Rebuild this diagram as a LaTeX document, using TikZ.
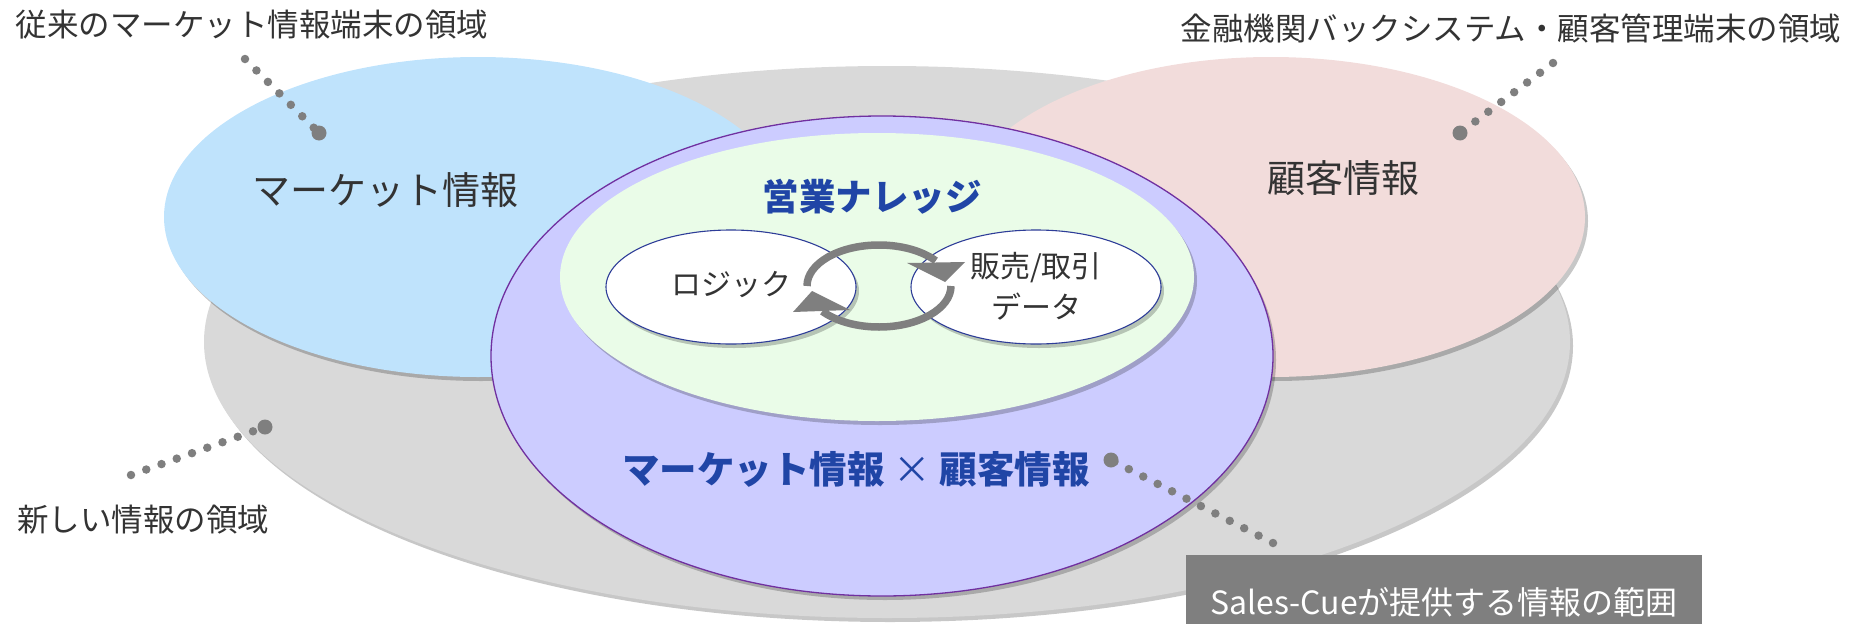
\documentclass[tikz,border=0pt]{standalone}
\usepackage{fontspec}
\setmainfont{Noto Sans CJK JP}
\usetikzlibrary{shapes.geometric,shadows}
\definecolor{grayell}{HTML}{D9D9D9}
\definecolor{blueell}{HTML}{BFE3FC}
\definecolor{pinkell}{HTML}{F2DCDB}
\definecolor{purpell}{HTML}{CCCCFF}
\definecolor{purpline}{HTML}{7030A0}
\definecolor{greenell}{HTML}{EAFCE8}
\definecolor{navyline}{HTML}{2E3D98}
\definecolor{dotgray}{HTML}{7F7F7F}
\definecolor{titleblue}{HTML}{2045A6}
\definecolor{labeltext}{HTML}{333333}
\tikzset{
  ell/.style={ellipse, inner sep=0pt, outer sep=0pt},
  softshadow/.style={drop shadow={shadow xshift=3pt, shadow yshift=-4pt, opacity=0.22, fill=black}},
  labeltxt/.style={inner sep=0pt, text=labeltext, font=\fontsize{31.5}{36}\selectfont},
  bigtxt/.style={inner sep=0pt, text=labeltext, font=\fontsize{38}{42}\selectfont},
  innertxt/.style={inner sep=0pt, text=labeltext, font=\fontsize{30}{41}\selectfont, align=center},
  headtxt/.style={inner sep=0pt, text=titleblue, font=\bfseries\fontsize{36.5}{42}\selectfont},
  dotline/.style={draw=dotgray, line width=8.5pt, line cap=round, dash pattern=on 0pt off 16.2pt},
  bigdot/.style={fill=dotgray},
  cyclearc/.style={draw=dotgray, line width=7.5pt},
  cyclehead/.style={fill=dotgray},
}
\begin{document}
\begin{tikzpicture}[x=1pt,y=-1pt]
\useasboundingbox (0,0) rectangle (1869,624);
% background areas
\node[ell, fill=grayell, softshadow, minimum width=1366pt, minimum height=552pt] (newarea) at (887,342) {};
\node[ell, fill=blueell, softshadow, minimum width=628pt, minimum height=320pt] (market) at (478,217) {};
\node[ell, fill=pinkell, softshadow, minimum width=628pt, minimum height=320pt] (client) at (1271,217) {};
\node[ell, fill=purpell, draw=purpline, line width=1.3pt, softshadow, minimum width=782pt, minimum height=480pt] (salescue) at (882,356) {};
\node[ell, fill=greenell, softshadow, minimum width=634pt, minimum height=288pt] (knowledge) at (877,277) {};
\node[ell, fill=white, draw=navyline, line width=1.1pt, softshadow, minimum width=250pt, minimum height=114pt] (logic) at (731,287) {};
\node[ell, fill=white, draw=navyline, line width=1.1pt, softshadow, minimum width=250pt, minimum height=114pt] (trade) at (1036,287) {};
% cycle arrows
\draw[cyclearc] (807,286) arc[start angle=180, end angle=38, x radius=72pt, y radius=41pt];
\fill[cyclehead] (907,263) -- (965,262) -- (945,282) -- cycle;
\draw[cyclearc] (951,286) arc[start angle=0, end angle=-142, x radius=72pt, y radius=41pt];
\fill[cyclehead] (793,312) -- (850,310) -- (812,291) -- cycle;
% texts in ellipses
\node[bigtxt] (markettxt) at (385,190) {マーケット情報};
\node[bigtxt] (clienttxt) at (1343,178) {顧客情報};
\node[headtxt] (knowtxt) at (872,197) {営業ナレッジ};
\node[innertxt] (logictxt) at (731,285) {ロジック};
\node[innertxt] (tradetxt) at (1036,286) {販売/取引\\データ};
\node[headtxt, font=\bfseries\fontsize{37.5}{42}\selectfont] (combtxt) at (856,469) {マーケット情報 {\mdseries ×} 顧客情報};
% outer labels
\node[labeltxt] (lblold) at (252,25) {従来のマーケット情報端末の領域};
\node[labeltxt] (lblbank) at (1511,28) {金融機関バックシステム・顧客管理端末の領域};
\node[labeltxt] (lblnew) at (143,520) {新しい情報の領域};
\node[fill=dotgray, inner sep=0pt, minimum width=516pt, minimum height=69pt, anchor=north west] (salesbox) at (1186,555) {};
\node[inner sep=0pt, text=white, font=\fontsize{32}{36}\selectfont] (salesboxtxt) at (1444,602) {Sales-Cueが提供する情報の範囲};
% dotted pointers
\coordinate (tlEnd) at (245,59);   \coordinate (tlDot) at (319,133);
\coordinate (trEnd) at (1553,63);  \coordinate (trDot) at (1460,133);
\coordinate (blEnd) at (131,475);  \coordinate (blDot) at (265,427);
\coordinate (brEnd) at (1273,543); \coordinate (brDot) at (1111,460);
\draw[dotline] (tlEnd) -- (tlDot);
\draw[dotline] (trEnd) -- (trDot);
\draw[dotline] (blEnd) -- (blDot);
\draw[dotline] (brEnd) -- (brDot);
\fill[bigdot] (tlDot) circle[radius=7.5pt];
\fill[bigdot] (trDot) circle[radius=7.5pt];
\fill[bigdot] (blDot) circle[radius=7.5pt];
\fill[bigdot] (brDot) circle[radius=7.5pt];
\end{tikzpicture}
\end{document}
